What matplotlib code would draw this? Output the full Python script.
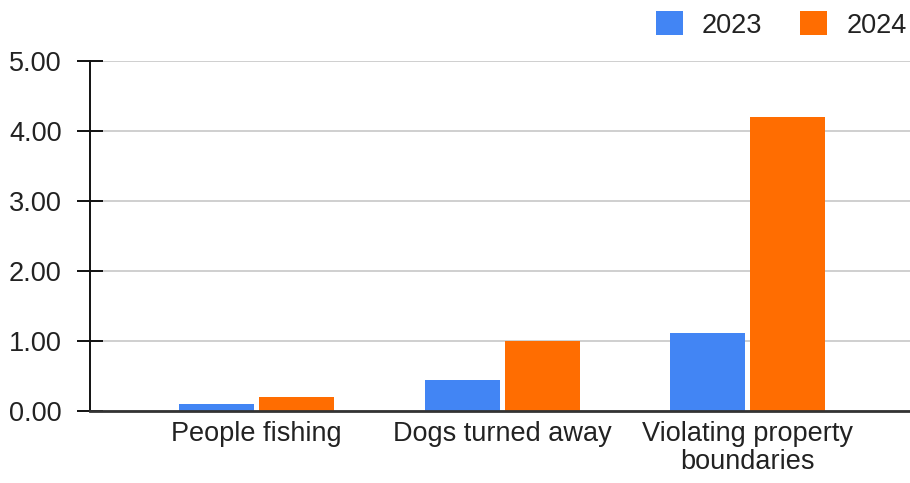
import matplotlib.pyplot as plt
import numpy as np
from matplotlib.patches import Patch

# chart data
categories = ["People fishing", "Dogs turned away", "Violating property\nboundaries"]
years = ["2023", "2024"]
values_2023 = [0.10, 0.44, 1.12]
values_2024 = [0.20, 1.00, 4.20]
yticks = [0, 1, 2, 3, 4, 5]

colors = ["#4285F4", "#FF6D01"]

plt.rcParams['font.family'] = ['Liberation Sans', 'DejaVu Sans']
fs = 19.5

fig = plt.figure(figsize=(9.1, 4.83), dpi=100)
ax = fig.add_axes([90 / 910, (483 - 411) / 483, 820 / 910, 350 / 483])

x = np.arange(len(categories))
width = 0.305
off = 0.163
ax.bar(x - off, values_2023, width, color=colors[0], zorder=3)
ax.bar(x + off, values_2024, width, color=colors[1], zorder=3)

ax.set_ylim(0, 5)
ax.set_xlim(-0.678, 2.66)
ax.set_yticks(yticks)
ax.set_yticklabels(["%.2f" % v for v in yticks])
ax.set_xticks(x)
ax.set_xticklabels(categories, linespacing=1.12)

# gridlines and axes
ax.yaxis.grid(True, color="#cccccc", linewidth=1.3, zorder=0)
for s in ["top", "right"]:
    ax.spines[s].set_visible(False)
ax.spines["left"].set_color("#111111")
ax.spines["left"].set_linewidth(1.4)
ax.spines["bottom"].set_color("#333333")
ax.spines["bottom"].set_linewidth(2)
ax.spines["bottom"].set_zorder(4)
ax.tick_params(axis="y", direction="inout", length=19, width=1.4, color="#111111",
               labelsize=fs, pad=11)
ax.tick_params(axis="x", length=0, labelsize=fs, pad=7)
for lbl in ax.get_xticklabels() + ax.get_yticklabels():
    lbl.set_color("#222222")

handles = [Patch(facecolor=c, label=y) for c, y in zip(colors, years)]
fig.legend(handles=handles, loc="upper right", bbox_to_anchor=(1.011, 1.005), ncol=2,
           frameon=False, fontsize=fs, handlelength=1.0, handleheight=1.0,
           handletextpad=0.7, columnspacing=1.4, borderaxespad=0.1,
           labelcolor="#222222")

plt.savefig("out.png", dpi=100)
